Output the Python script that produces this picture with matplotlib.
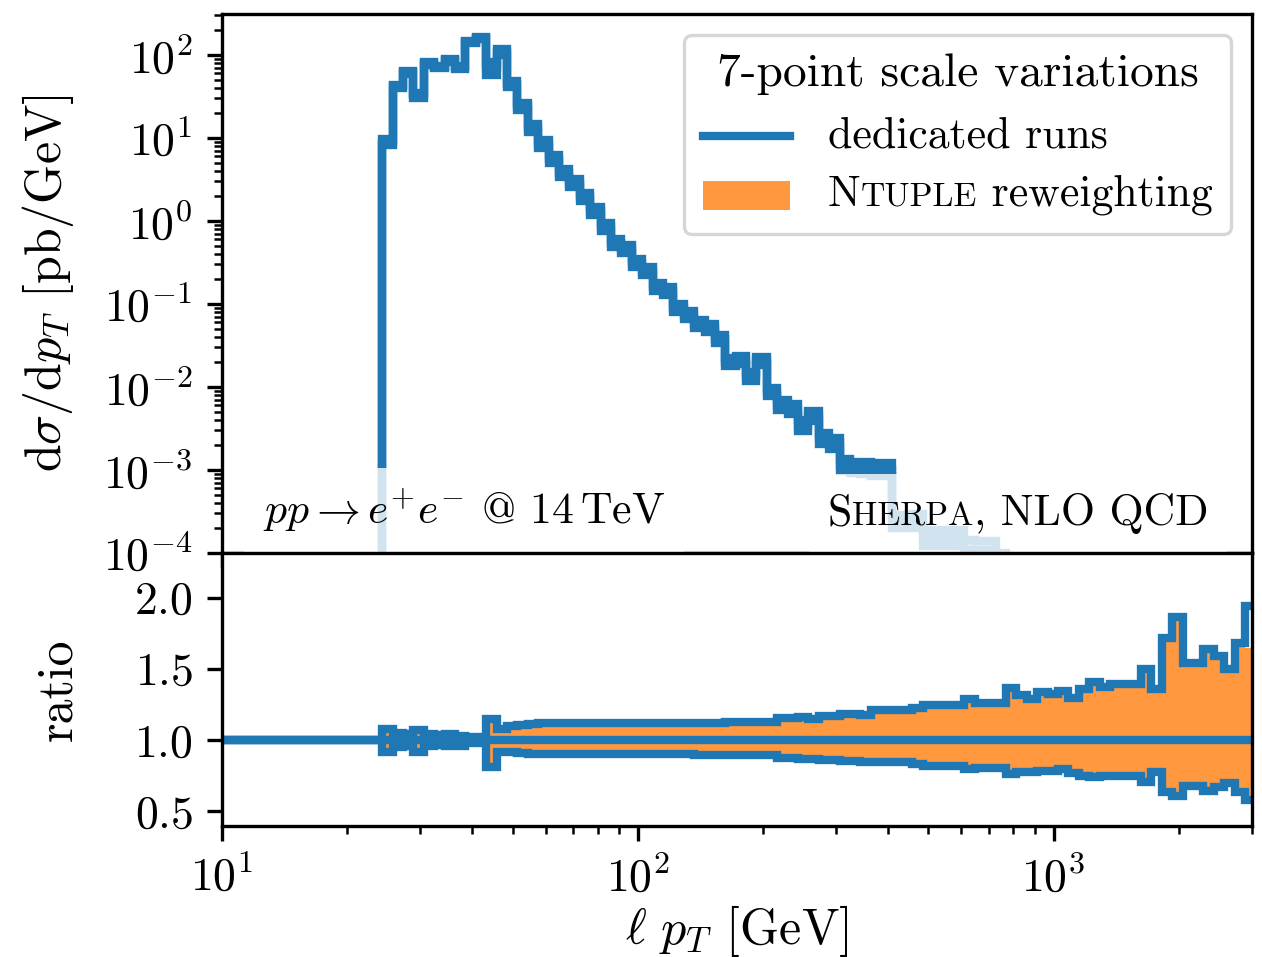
import numpy as np
import matplotlib
matplotlib.use("Agg")
import matplotlib.pyplot as plt
from matplotlib.ticker import LogLocator
from matplotlib.offsetbox import AnchoredOffsetbox, VPacker, HPacker, TextArea, DrawingArea
from matplotlib.lines import Line2D
from matplotlib.patches import Rectangle

plt.rcParams.update({
    "font.family": ["cmr10", "DejaVu Serif"],
    "mathtext.fontset": "cm",
    "axes.formatter.use_mathtext": True,
    "font.size": 11,
    "axes.labelsize": 12,
})

BLUE = "#1f77b4"
ORANGE = "#ff7f0e"

# ---- binning (log-uniform bins in lepton pT) ----
n_empty = 16            # bins below the lepton cut (no events)
log_edge0 = 0.9854
dlog = 0.025
n_bins = 100
edges = 10 ** (log_edge0 + dlog * np.arange(n_bins + 1))

# ---- central cross section [pb/GeV] for the filled bins ----
central = [
    9.0, 42, 62, 33, 80, 72, 87, 72, 143, 160,
    72, 109, 45, 24, 13.1, 8.5, 5.6, 3.8, 2.87, 1.95,
    1.32, 0.85, 0.54, 0.46, 0.31, 0.25, 0.16, 0.144, 0.090, 0.074,
    0.058, 0.051, 0.038, 0.020, 0.021, 0.0134, 0.0205, 0.0087, 0.0060, 0.0054,
    0.0034, 0.0045, 0.0024, 0.0021, 0.00114, 0.00107, 0.00107, 0.00100, 0.00100, 2.4e-4,
    2.4e-4, 2.4e-4, 1.5e-4, 1.5e-4, 1.5e-4, 1.5e-4, 1.1e-4, 1.1e-4, 1.1e-4, 8.0e-5,
    6.5e-5, 5.5e-5, 4.6e-5, 3.8e-5, 3.1e-5, 2.6e-5, 2.1e-5, 1.7e-5, 1.4e-5, 1.15e-5,
    9.5e-6, 7.8e-6, 6.4e-6, 5.2e-6, 4.3e-6, 3.5e-6, 2.9e-6, 2.4e-6, 1.9e-6, 1.6e-6,
    1.3e-6, 1.05e-6, 8.6e-7, 7.0e-7,
]

# ---- 7-point envelope, ratio to central: dedicated runs ----
dedicated_up = [
    1.077, 1.050, 1.045, 1.070, 1.040, 1.035, 1.040, 1.030, 1.020, 1.020,
    1.146, 1.077, 1.095, 1.105, 1.112, 1.117, 1.120, 1.120, 1.120, 1.120,
    1.120, 1.120, 1.120, 1.120, 1.120, 1.120, 1.120, 1.120, 1.120, 1.120,
    1.120, 1.120, 1.120, 1.125, 1.125, 1.125, 1.125, 1.125, 1.153, 1.153,
    1.164, 1.150, 1.166, 1.166, 1.180, 1.180, 1.175, 1.211, 1.211, 1.211,
    1.211, 1.223, 1.246, 1.246, 1.246, 1.246, 1.286, 1.258, 1.258, 1.258,
    1.363, 1.317, 1.291, 1.340, 1.324, 1.347, 1.293, 1.359, 1.411, 1.371,
    1.394, 1.394, 1.394, 1.498, 1.359, 1.716, 1.864, 1.540, 1.540, 1.643,
    1.590, 1.502, 1.681, 1.940,
]
dedicated_dn = [
    0.918, 0.953, 0.955, 0.918, 0.960, 0.965, 0.960, 0.955, 0.980, 0.980,
    0.808, 0.918, 0.912, 0.906, 0.903, 0.900, 0.900, 0.900, 0.900, 0.900,
    0.898, 0.898, 0.898, 0.898, 0.898, 0.898, 0.898, 0.898, 0.898, 0.898,
    0.897, 0.897, 0.895, 0.893, 0.893, 0.893, 0.893, 0.893, 0.871, 0.871,
    0.864, 0.864, 0.862, 0.862, 0.854, 0.854, 0.843, 0.843, 0.843, 0.843,
    0.843, 0.831, 0.819, 0.819, 0.819, 0.819, 0.793, 0.805, 0.805, 0.805,
    0.760, 0.777, 0.777, 0.782, 0.782, 0.795, 0.765, 0.745, 0.737, 0.745,
    0.745, 0.745, 0.745, 0.707, 0.775, 0.631, 0.608, 0.678, 0.678, 0.643,
    0.667, 0.695, 0.631, 0.577,
]
# ---- 7-point envelope, ratio to central: NTUPLE reweighting ----
ntuple_up = [
    1.075, 1.048, 1.043, 1.068, 1.038, 1.033, 1.038, 1.028, 1.018, 1.018,
    1.144, 1.075, 1.093, 1.103, 1.110, 1.115, 1.118, 1.118, 1.118, 1.118,
    1.118, 1.118, 1.118, 1.118, 1.118, 1.118, 1.118, 1.118, 1.118, 1.118,
    1.118, 1.118, 1.118, 1.123, 1.123, 1.123, 1.123, 1.123, 1.151, 1.151,
    1.162, 1.148, 1.164, 1.164, 1.178, 1.178, 1.173, 1.209, 1.209, 1.209,
    1.209, 1.221, 1.244, 1.244, 1.244, 1.244, 1.284, 1.256, 1.256, 1.256,
    1.361, 1.315, 1.289, 1.338, 1.322, 1.345, 1.291, 1.357, 1.409, 1.369,
    1.392, 1.392, 1.392, 1.496, 1.357, 1.714, 1.862, 1.538, 1.538, 1.641,
    1.588, 1.500, 1.679, 1.650,
]
ntuple_dn = [
    0.920, 0.955, 0.957, 0.920, 0.962, 0.967, 0.962, 0.957, 0.982, 0.982,
    0.810, 0.920, 0.914, 0.908, 0.905, 0.902, 0.902, 0.902, 0.902, 0.902,
    0.900, 0.900, 0.900, 0.900, 0.900, 0.900, 0.900, 0.900, 0.900, 0.900,
    0.899, 0.899, 0.897, 0.895, 0.895, 0.895, 0.895, 0.895, 0.873, 0.873,
    0.866, 0.866, 0.864, 0.864, 0.856, 0.856, 0.845, 0.845, 0.845, 0.845,
    0.845, 0.833, 0.821, 0.821, 0.821, 0.821, 0.795, 0.807, 0.807, 0.807,
    0.762, 0.779, 0.779, 0.784, 0.784, 0.797, 0.767, 0.747, 0.739, 0.747,
    0.747, 0.747, 0.747, 0.709, 0.777, 0.633, 0.610, 0.680, 0.680, 0.645,
    0.669, 0.697, 0.633, 0.600,
]

pad0 = np.zeros(n_empty)
pad1 = np.ones(n_empty)
cen = np.concatenate([pad0, central])
r_ded_up = np.concatenate([pad1, dedicated_up])
r_ded_dn = np.concatenate([pad1, dedicated_dn])
r_nt_up = np.concatenate([pad1, ntuple_up])
r_nt_dn = np.concatenate([pad1, ntuple_dn])
r_cen = np.ones(n_bins)

# ---- figure / axes ----
W, H = 1262, 957
fig = plt.figure(figsize=(W / 300, H / 300), dpi=300)
left, right = 222 / W, 1252 / W
y_top, y_mid, y_bot = 14 / H, 553 / H, 826 / H
ax1 = fig.add_axes([left, 1 - y_mid, right - left, y_mid - y_top])
ax2 = fig.add_axes([left, 1 - y_bot, right - left, y_bot - y_mid], sharex=ax1)

lw = 2.0
# top panel
ax1.stairs(cen * r_nt_up, edges, baseline=cen * r_nt_dn, fill=True,
           color=ORANGE, alpha=0.8, lw=0)
ax1.stairs(cen * r_ded_up, edges, color=BLUE, lw=lw)
ax1.stairs(cen * r_ded_dn, edges, color=BLUE, lw=lw)
ax1.stairs(cen, edges, color=BLUE, lw=lw)
ax1.set_xscale("log")
ax1.set_yscale("log")
ax1.set_xlim(10, 3000)
ax1.set_ylim(1e-4, 312)
ax1.yaxis.set_major_locator(LogLocator(base=10, numticks=20))
ax1.yaxis.set_minor_locator(LogLocator(base=10, subs=np.arange(2, 10), numticks=20))
ax1.set_ylabel(r"$\mathrm{d}\sigma/\mathrm{d}p_T$ [pb/GeV]")
ax1.yaxis.set_label_coords(-0.142, 0.5)
ax1.tick_params(labelbottom=False)

# ratio panel
ax2.stairs(r_nt_up, edges, baseline=r_nt_dn, fill=True,
           color=ORANGE, alpha=0.8, lw=0)
ax2.stairs(r_ded_up, edges, baseline=None, color=BLUE, lw=lw)
ax2.stairs(r_ded_dn, edges, baseline=None, color=BLUE, lw=lw)
ax2.stairs(r_cen, edges, baseline=None, color=BLUE, lw=lw)
ax2.set_ylim(0.395, 2.315)
ax2.set_yticks([0.5, 1.0, 1.5, 2.0])
ax2.set_ylabel("ratio")
ax2.yaxis.set_label_coords(-0.137, 0.5)
ax2.set_xlabel(r"$\ell\ p_T$ [GeV]", labelpad=0.8)

fs_t = 11.4   # legend title
fs = 10.5     # legend entries / annotations
sc = 8.1      # small caps

# legend
title = TextArea("7-point scale variations", textprops=dict(size=fs_t))
da1 = DrawingArea(21, 7, 0, 0)
da1.add_artist(Line2D([0, 21], [3.5, 3.5], color=BLUE, lw=lw))
row1 = HPacker(children=[da1, TextArea("dedicated runs", textprops=dict(size=fs))],
               align="center", pad=0, sep=9)
da2 = DrawingArea(21, 7, 0, 0)
da2.add_artist(Rectangle((0, 0), 21, 7, facecolor=ORANGE, alpha=0.8, edgecolor="none"))
lab2 = HPacker(children=[TextArea("N", textprops=dict(size=fs)),
                         TextArea("TUPLE", textprops=dict(size=sc)),
                         TextArea(" reweighting", textprops=dict(size=fs))],
               align="baseline", pad=0, sep=0)
row2 = HPacker(children=[da2, lab2], align="center", pad=0, sep=9)
rows = VPacker(children=[row1, row2], align="left", pad=0, sep=4.5)
legbox = VPacker(children=[title, rows], align="center", pad=0, sep=5)
leg = AnchoredOffsetbox(loc="upper right", child=legbox, pad=0.45, borderpad=0.5,
                        frameon=True, prop=dict(size=10))
leg.patch.set_boxstyle("round,pad=0,rounding_size=0.2")
leg.patch.set_facecolor("white")
leg.patch.set_edgecolor("0.8")
leg.patch.set_alpha(0.8)
leg.patch.set_linewidth(0.8)
ax1.add_artist(leg)

# process / generator labels
ltxt = TextArea(r"$pp \to e^{+}e^{-}$ @ 14$\,$TeV", textprops=dict(size=fs))
lbox = AnchoredOffsetbox(loc="lower left", child=ltxt, pad=0.45, borderpad=0,
                         frameon=True, bbox_to_anchor=(0.0214, 0.0),
                         bbox_transform=ax1.transAxes, prop=dict(size=10))
lbox.patch.set(facecolor="white", alpha=0.8, edgecolor="none")
ax1.add_artist(lbox)

rtxt = HPacker(children=[TextArea("S", textprops=dict(size=fs)),
                         TextArea("HERPA", textprops=dict(size=sc)),
                         TextArea(", NLO QCD", textprops=dict(size=fs))],
               align="baseline", pad=0, sep=0)
rbox = AnchoredOffsetbox(loc="lower right", child=rtxt, pad=0.45, borderpad=0,
                         frameon=True, bbox_to_anchor=(0.9757, 0.0),
                         bbox_transform=ax1.transAxes, prop=dict(size=10))
rbox.patch.set(facecolor="white", alpha=0.8, edgecolor="none")
ax1.add_artist(rbox)

fig.savefig("out.png", dpi=300)
